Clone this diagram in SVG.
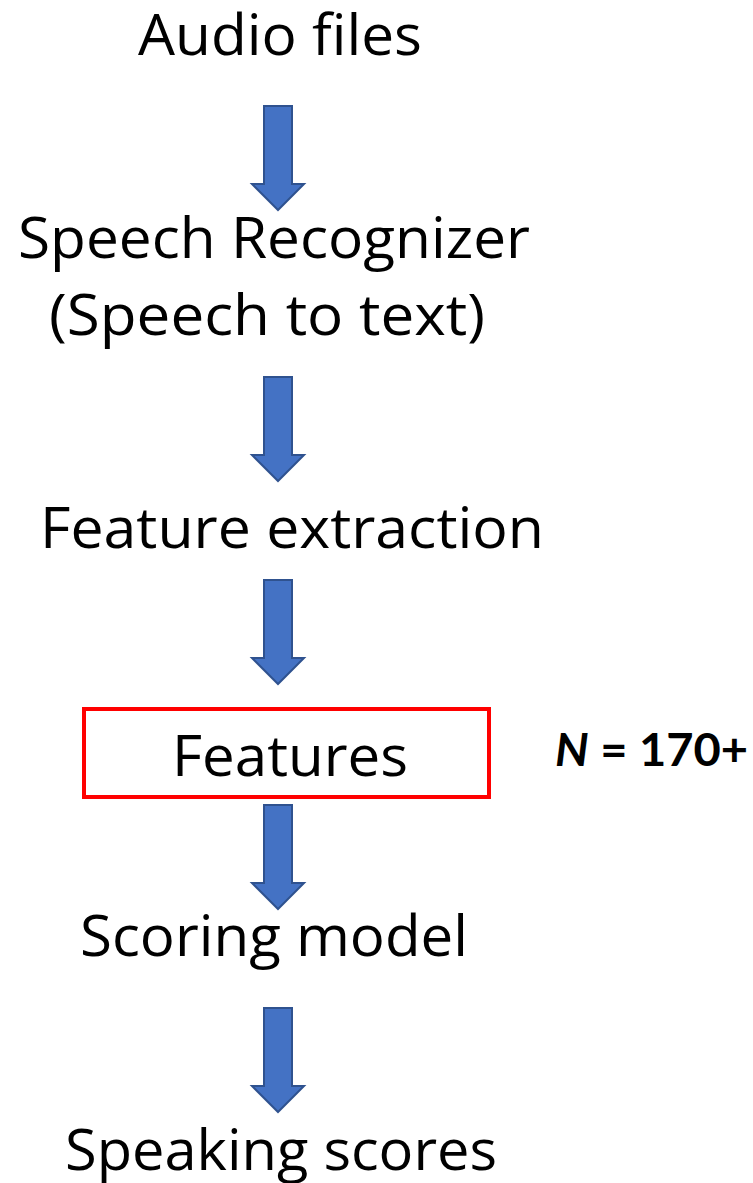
<svg xmlns="http://www.w3.org/2000/svg" width="753" height="1183" viewBox="0 0 753 1183">
<defs>
<style>
.t{font-family:"Open Sans","Noto Sans","DejaVu Sans",sans-serif;font-size:56px;fill:#000;text-anchor:middle}
.n{font-family:Lato,"Open Sans","Liberation Sans",sans-serif;font-size:45px;font-weight:bold;fill:#000}
.arr{fill:#4472C4;stroke:#2F528F;stroke-width:2}
</style>
<path id="a" class="arr" d="M-14,0 H14 V78 H26 L0,104 L-26,78 H-14 Z"/>
</defs>
<rect width="753" height="1183" fill="#fff"/>
<g id="connectors">
<use href="#a" x="278" y="106"/>
<use href="#a" x="278" y="377"/>
<use href="#a" x="278" y="580"/>
<use href="#a" x="278" y="805"/>
<use href="#a" x="278" y="1008"/>
</g>
<g id="audio"><text class="t" x="280" y="55" textLength="284" lengthAdjust="spacingAndGlyphs">Audio files</text></g>
<g id="recognizer">
<text class="t" x="274" y="258" textLength="512" lengthAdjust="spacingAndGlyphs">Speech Recognizer</text>
<text class="t" x="267" y="335" textLength="436" lengthAdjust="spacingAndGlyphs">(Speech to text)</text>
</g>
<g id="extraction"><text class="t" x="292" y="548" textLength="504" lengthAdjust="spacingAndGlyphs">Feature extraction</text></g>
<g id="features">
<rect x="84" y="709" width="405" height="88" fill="none" stroke="#FF0000" stroke-width="4"/>
<text class="t" x="290" y="776" textLength="236" lengthAdjust="spacingAndGlyphs">Features</text>
</g>
<g id="nlabel"><text class="n" x="555" y="766" textLength="193" lengthAdjust="spacingAndGlyphs"><tspan font-style="italic">N</tspan> = 170+</text></g>
<g id="scoring"><text class="t" x="274" y="956" textLength="388" lengthAdjust="spacingAndGlyphs">Scoring model</text></g>
<g id="scores"><text class="t" x="281" y="1170" textLength="432" lengthAdjust="spacingAndGlyphs">Speaking scores</text></g>
</svg>
